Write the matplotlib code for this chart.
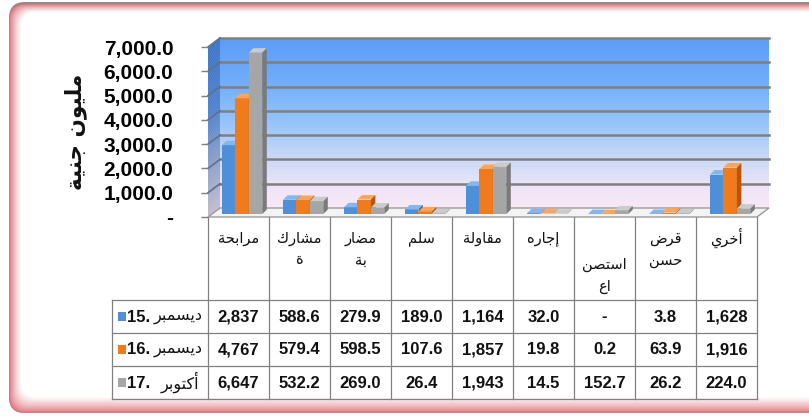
import numpy as np
import matplotlib
matplotlib.use("Agg")
import matplotlib.pyplot as plt
from matplotlib.patches import Polygon, FancyBboxPatch, Rectangle

# ---- data ----
categories = ["مرابحة", "مشاركة", "مضاربة", "سلم", "مقاولة", "إجاره", "استصناع", "قرض حسن", "أخري"]
header_lines = [["مرابحة"], ["مشارك", "ة"], ["مضار", "بة"], ["سلم"], ["مقاولة"],
                ["إجاره"], ["استصن", "اع"], ["قرض", "حسن"], ["أخري"]]
series_month = ["ديسمبر", "ديسمبر", "أكتوبر"]
series_year = ["15", "16", "17"]
dec15 = [2837, 588.6, 279.9, 189.0, 1164, 32.0, 0.0, 3.8, 1628]
dec16 = [4767, 579.4, 598.5, 107.6, 1857, 19.8, 0.2, 63.9, 1916]
oct17 = [6647, 532.2, 269.0, 26.4, 1943, 14.5, 152.7, 26.2, 224.0]
yticks = [0, 1000, 2000, 3000, 4000, 5000, 6000, 7000]
ytick_labels = ["-", "1,000.0", "2,000.0", "3,000.0", "4,000.0", "5,000.0", "6,000.0", "7,000.0"]
ylabel = "مليون جنية"

series = [dec15, dec16, oct17]
front = ["#4f8fd8", "#f07b1c", "#a6a6a6"]
topc = ["#86b6ec", "#f8a55e", "#cbcbcb"]
sidec = ["#3868a0", "#b5570e", "#7a7a7a"]

# ---- simple arabic shaping (presentation forms, visual order) ----
_dual = {'ب': 0xFE8F, 'ت': 0xFE95, 'ث': 0xFE99, 'ج': 0xFE9D, 'ح': 0xFEA1, 'خ': 0xFEA5,
         'س': 0xFEB1, 'ش': 0xFEB5, 'ص': 0xFEB9, 'ض': 0xFEBD, 'ط': 0xFEC1, 'ظ': 0xFEC5,
         'ع': 0xFEC9, 'غ': 0xFECD, 'ف': 0xFED1, 'ق': 0xFED5, 'ك': 0xFED9, 'ل': 0xFEDD,
         'م': 0xFEE1, 'ن': 0xFEE5, 'ه': 0xFEE9, 'ي': 0xFEF1}
_right = {'ا': 0xFE8D, 'أ': 0xFE83, 'إ': 0xFE87, 'ة': 0xFE93, 'د': 0xFEA9, 'ذ': 0xFEAB,
          'ر': 0xFEAD, 'ز': 0xFEAF, 'و': 0xFEED, 'ى': 0xFEEF}


def ar(s):
    out = []
    for i, c in enumerate(s):
        if c not in _dual and c not in _right:
            out.append(c)
            continue
        prev = s[i - 1] if i > 0 else ''
        nxt = s[i + 1] if i + 1 < len(s) else ''
        jp = prev in _dual
        jn = c in _dual and (nxt in _dual or nxt in _right)
        base = _dual.get(c, _right.get(c))
        k = 3 if (jp and jn) else 1 if jp else 2 if jn else 0
        out.append(chr(base + k))
    return ''.join(out[::-1])


def fmt(v):
    if v == 0:
        return "-"
    if v >= 1000:
        return f"{v:,.0f}"
    return f"{v:.1f}"


def mix(c1, c2, t):
    return tuple((1 - t) * a + t * b for a, b in zip(c1, c2))


W, H = 809, 416
fig = plt.figure(figsize=(W / 100, H / 100), dpi=100)
bg = fig.add_axes([0, 0, 1, 1])
bg.set_xlim(0, W)
bg.set_ylim(H, 0)
bg.axis('off')

# ---- frame with red glow ----
bg.add_patch(FancyBboxPatch((9, 2), 830, 411, boxstyle="round,pad=0,rounding_size=16",
                            fc="#8c8c8c", ec="none"))
red = (0.84, 0.36, 0.40)
white = (1, 1, 1)
n = 14
for k in range(n):
    t = (k + 1) / n
    c = mix(red, white, t ** 0.7)
    bg.add_patch(FancyBboxPatch((9 + 0.9 * k, 4 + 0.6 * k), 830, 409 - 0.6 * k - 1.2 * k,
                                boxstyle="round,pad=0,rounding_size=16", fc=c, ec="none"))

# ---- chart axes ----
TL, CW = 208, 61
Y0, Y7 = 217, 47
ax = fig.add_axes([TL / W, (H - Y0) / H, 9 * CW / W, (Y0 - Y7) / H])
ax.set_xlim(-0.5, 8.5)
ax.set_ylim(0, 7000)
ax.patch.set_visible(False)
for s in ax.spines.values():
    s.set_visible(False)

DX, DY = 12 / CW, 9 / (Y0 - Y7) * 7000
xl, xr = -0.5, 8.5

# back wall gradient
stops = [(0.0, (248, 232, 246)), (0.12, (238, 228, 246)), (0.3, (200, 216, 246)),
         (0.5, (150, 196, 250)), (0.75, (112, 172, 250)), (1.0, (90, 155, 245))]
def grad(t, st):
    for (a, ca), (b, cb) in zip(st[:-1], st[1:]):
        if a <= t <= b:
            u = (t - a) / (b - a)
            return tuple(((1 - u) * p + u * q) / 255 for p, q in zip(ca, cb))
    return tuple(v / 255 for v in st[-1][1])

side_stops = [(0.0, (196, 190, 206)), (0.3, (140, 160, 200)), (0.6, (80, 130, 205)), (1.0, (60, 118, 200))]
N = 120
lev = np.linspace(0, 7000, N + 1)
for a, b in zip(lev[:-1], lev[1:]):
    t = (a + b) / 2 / 7000
    ax.add_patch(Polygon([(xl + DX, a + DY), (xr + DX, a + DY), (xr + DX, b + DY + 20), (xl + DX, b + DY + 20)],
                         closed=True, fc=grad(t, stops), ec="none", lw=0, clip_on=False, zorder=1))
    ax.add_patch(Polygon([(xl, a), (xl + DX, a + DY), (xl + DX, b + DY + 20), (xl, b + 20)],
                         closed=True, fc=grad(t, side_stops), ec="none", lw=0, clip_on=False, zorder=1))

# grid lines
for v in yticks[1:]:
    ax.plot([xl + DX, xr + DX], [v + DY, v + DY], color="#7f7f7f", lw=1.8, clip_on=False, zorder=1.5)
    ax.plot([xl, xl + DX], [v, v + DY], color="#5f6f8f", lw=1.2, clip_on=False, zorder=1.5)

# floor
ax.add_patch(Polygon([(xl, 0), (xr, 0), (xr + DX, DY), (xl + DX, DY)], closed=True,
                     fc="#f3f3f3", ec="#9a9a9a", lw=1.0, clip_on=False, zorder=2))

# bars
bw = 0.22
sx = 0.06
by = 120
bdx, bdy = 4.5 / CW, 4.5 / (Y0 - Y7) * 7000
x = np.arange(len(categories))
for j, vals in enumerate(series):
    xs = x + (j - 1) * bw + sx
    bars = ax.bar(xs, vals, width=bw, bottom=by, color=front[j], edgecolor="none", lw=0)
    for i, p in enumerate(bars):
        z = 3 + (i * 3 + j) * 0.01
        p.set_zorder(z)
        x0 = xs[i] - bw / 2
        x1 = xs[i] + bw / 2
        h = by + vals[i]
        ax.add_patch(Polygon([(x0, h), (x1, h), (x1 + bdx, h + bdy), (x0 + bdx, h + bdy)], closed=True,
                             fc=topc[j], ec="none", clip_on=False, zorder=z + 0.001))
        ax.add_patch(Polygon([(x1, by), (x1 + bdx, by + bdy), (x1 + bdx, h + bdy), (x1, h)], closed=True,
                             fc=sidec[j], ec="none", clip_on=False, zorder=z + 0.001))

ax.set_xticks([])
ax.set_yticks(yticks)
ax.set_yticklabels(ytick_labels, fontsize=15, fontweight="bold", family="Liberation Sans")
ax.tick_params(axis="y", length=5, width=1, color="#7f7f7f", pad=20)
ax.set_xlim(-0.5, 8.5)
ax.set_ylim(0, 7000)

# y label
bg.text(76, 132, ar(ylabel), rotation=90, ha="center", va="center", fontsize=15.5,
        fontweight="bold", family="DejaVu Sans", color="#111111")

# ---- data table ----
lc = "#808080"
rows_y = [300, 333, 366, 399]
xb = [TL + CW * k for k in range(10)]
for xv in xb:
    bg.plot([xv, xv], [Y0, rows_y[-1]], color=lc, lw=0.9)
bg.plot([112, 112], [rows_y[0], rows_y[-1]], color=lc, lw=0.9)
for yv in rows_y:
    bg.plot([112, xb[-1]], [yv, yv], color=lc, lw=0.9)

for i, lines in enumerate(header_lines):
    cx = TL + CW * (i + 0.5)
    y_first = 265 if len(lines) == 2 and i == 6 else 238
    for k, ln in enumerate(lines):
        bg.text(cx, y_first + 22 * k, ar(ln), ha="center", va="center", fontsize=10.5,
                family="DejaVu Sans", color="#111111")

for j, vals in enumerate(series):
    cy = (rows_y[j] + rows_y[j + 1]) / 2
    bg.add_patch(Rectangle((118, cy - 4.5), 8.5, 9, fc=front[j], ec="none"))
    bg.text(127, cy + 0.5, series_year[j] + ".", ha="left", va="center", fontsize=12,
            fontweight="bold", family="Liberation Sans", color="#111111")
    bg.text(203 if j < 2 else 199, cy, ar(series_month[j]), ha="right", va="center", fontsize=11.5,
            family="DejaVu Sans", color="#111111")
    for i, v in enumerate(vals):
        cx = TL + CW * (i + 0.5)
        bg.text(cx, cy + 0.5, fmt(v), ha="center", va="center", fontsize=12,
                fontweight="bold", family="Liberation Sans", color="#111111")

fig.savefig("out.png", dpi=100)
